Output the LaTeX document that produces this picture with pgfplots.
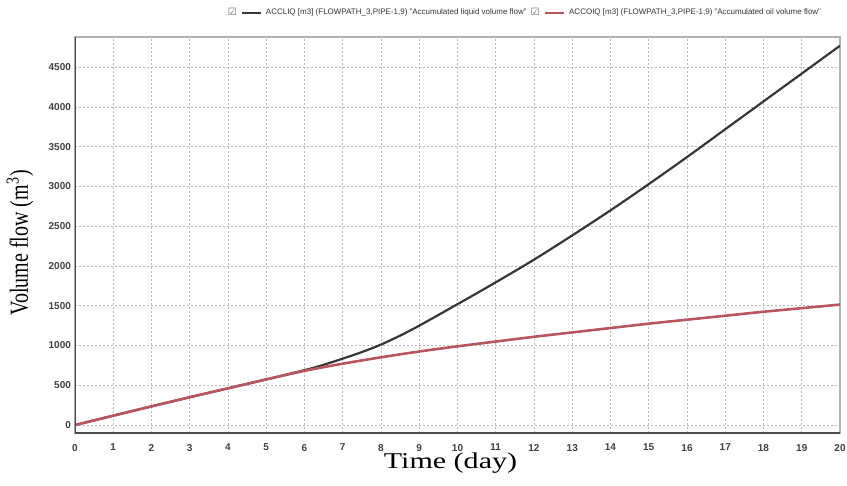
\documentclass[border=0pt]{standalone}
\usepackage{pgfplots}
\pgfplotsset{compat=1.18}
\usepackage{fontspec}
\setmainfont{Liberation Serif}
\setsansfont{Liberation Sans}
\newfontfamily\symb{DejaVu Sans}
\newfontfamily\widefont[FakeStretch=1.33]{Liberation Serif}
\definecolor{liq}{RGB}{55,55,55}
\definecolor{oil}{RGB}{185,85,95}
\begin{document}
\begin{tikzpicture}
\begin{axis}[
  name=ax,
  scale only axis,
  width=382.5pt, height=198pt,
  xmin=0, xmax=20, ymin=-100, ymax=4880,
  xtick={0,1,...,20},
  ytick={0,500,...,4500},
  major tick length=0pt,
  /pgf/number format/assume math mode=true,
  /pgf/number format/1000 sep={},
  tick label style={font=\sffamily\bfseries\fontsize{5}{6}\selectfont, text=black!75},
  xticklabel style={yshift=-2pt},
  yticklabel style={xshift=1.5pt},
  grid=major,
  major grid style={gray!55, line width=0.4pt, dash pattern=on 1pt off 1pt},
  axis line style={gray!60, line width=0.8pt},
  xlabel={Time (day)},
  ylabel={\scalebox{1}[1.3]{Volume flow (m\textsuperscript{3})}},
  xlabel style={font=\widefont\fontsize{11.3}{13}\selectfont, at={(axis description cs:0.5,0)}, anchor=center, yshift=-15pt, xshift=-3.5pt},
  ylabel style={font=\rmfamily\fontsize{10}{12}\selectfont, at={(axis description cs:0,0.5)}, anchor=center, yshift=27.5pt, xshift=-4pt},
  legend columns=2,
  legend style={draw=none, fill=none, at={(axis description cs:0.59,1)}, anchor=center, yshift=12pt,
    font=\sffamily\fontsize{4}{5}\selectfont, text=black!80,
    /tikz/every even column/.append style={column sep=0pt},
    inner sep=0pt},
  legend image code/.code={
    \node[font=\symb\fontsize{5}{5}\selectfont, inner sep=0pt, anchor=east, text=black!60] at (-2pt,0pt) {☑};
    \draw[#1] (0pt,0pt) -- (9.5pt,0pt);
  },
]
\addplot[liq, line width=1.1pt, smooth] coordinates {
 (0,0) (1,118) (2,235) (3,350) (4,462) (5,574) (6,690) (6.5,758) (7,835) (7.5,918) (8,1012) (8.5,1125) (9,1250) (10,1520) (11,1795) (12,2080) (13,2385) (14,2700) (15,3030) (16,3370) (17,3720) (18,4070) (19,4420) (20,4770)
};
\addlegendentry{ACCLIQ [m3] (FLOWPATH\_3,PIPE-1,9) "Accumulated liquid volume flow"}
\addplot[oil, line width=1.3pt, smooth] coordinates {
 (0,0) (1,118) (2,235) (3,350) (4,462) (5,574) (6,682) (7,772) (8,852) (9,925) (10,990) (11,1050) (12,1110) (13,1165) (14,1220) (15,1275) (16,1325) (17,1375) (18,1425) (19,1470) (20,1515)
};
\addlegendentry{ACCOIQ [m3] (FLOWPATH\_3,PIPE-1,9) "Accumulated oil volume flow"}
\draw[black!70, line width=1.4pt] (rel axis cs:0,1) -- (rel axis cs:0,0) -- (rel axis cs:1,0);
\end{axis}
\pgfresetboundingbox
\path[use as bounding box] ([xshift=-37.5pt,yshift=-26pt]ax.south west) rectangle ([xshift=3.5pt,yshift=18.5pt]ax.north east);
\end{tikzpicture}
\end{document}
